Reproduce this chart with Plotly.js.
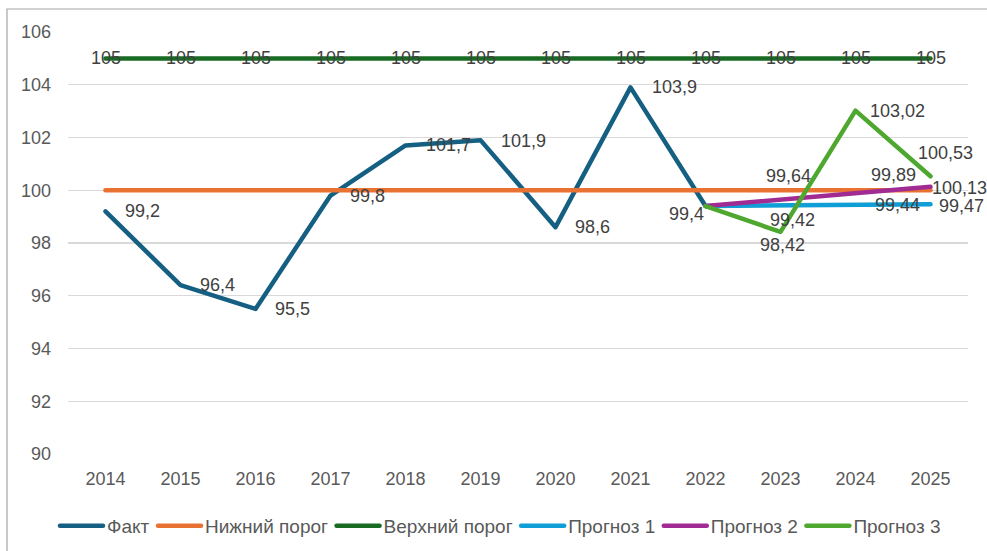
<!DOCTYPE html>
<html>
<head>
<meta charset="utf-8">
<script src="https://cdn.plot.ly/plotly-3.0.1.min.js"></script>
<style>
html, body { margin: 0; padding: 0; background: #fff; }
#chart { width: 987px; height: 551px; }
.js-line, .legendlines path { stroke-linejoin: round !important; stroke-linecap: round !important; }
</style>
</head>
<body>
<div id="chart"></div>
<script>
var years = ['2014','2015','2016','2017','2018','2019','2020','2021','2022','2023','2024','2025'];
var fact = [99.2, 96.4, 95.5, 99.8, 101.7, 101.9, 98.6, 103.9, 99.4, null, null, null];
var lowerThreshold = [100,100,100,100,100,100,100,100,100,100,100,100];
var upperThreshold = [105,105,105,105,105,105,105,105,105,105,105,105];
var forecast1 = [null,null,null,null,null,null,null,null, 99.4, 99.42, 99.44, 99.47];
var forecast2 = [null,null,null,null,null,null,null,null, 99.4, 99.64, 99.89, 100.13];
var forecast3 = [null,null,null,null,null,null,null,null, 99.4, 98.42, 103.02, 100.53];
var yTicks = [90, 92, 94, 96, 98, 100, 102, 104, 106];

// label placement per point: [xanchor, xshift, yshift] (null = no label)
var L = ['left', 17, 0];
var factPlace = [L, L, ['left',17,0], L, ['left',18,0], ['left',18,-1], L, ['left',19,0], ['right',0,-8], null, null, null];
var upperPlace = years.map(function () { return ['center', 0, 0]; });
var f1Place = [null,null,null,null,null,null,null,null, null, ['center',12,-14], ['left',17,0], ['left',6,-1.5]];
var f2Place = [null,null,null,null,null,null,null,null, null, ['center',8,24], ['center',38,18], ['left',-1,-1]];
var f3Place = [null,null,null,null,null,null,null,null, null, ['center',1.5,-13], ['left',12,0], ['center',15,23.5]];

function fmt(v) { return String(v).replace('.', ','); }

var lblFont = {family: 'Liberation Sans, Arial, sans-serif', size: 18, color: '#404040'};
var annotations = [];
function addLabels(values, place) {
  values.forEach(function (v, i) {
    var p = place[i];
    if (v === null || !p) return;
    annotations.push({x: i, y: v, xref: 'x', yref: 'y', text: fmt(v), showarrow: false,
      xanchor: p[0], yanchor: 'middle', xshift: p[1], yshift: p[2],
      font: {family: lblFont.family, size: lblFont.size, color: lblFont.color}});
  });
}
addLabels(fact, factPlace);
addLabels(upperThreshold, upperPlace);
addLabels(forecast1, f1Place);
addLabels(forecast2, f2Place);
addLabels(forecast3, f3Place);

var W = 4.5;
var traces = [
  {name: 'Факт', x: years, y: fact, mode: 'lines', line: {color: '#156082', width: W}, cliponaxis: false},
  {name: 'Нижний порог', x: years, y: lowerThreshold, mode: 'lines', line: {color: '#E97132', width: W}, cliponaxis: false},
  {name: 'Верхний порог', x: years, y: upperThreshold, mode: 'lines', line: {color: '#196B24', width: W}, cliponaxis: false},
  {name: 'Прогноз 1', x: years, y: forecast1, mode: 'lines', line: {color: '#0F9ED5', width: W}, cliponaxis: false},
  {name: 'Прогноз 2', x: years, y: forecast2, mode: 'lines', line: {color: '#A02B93', width: W}, cliponaxis: false},
  {name: 'Прогноз 3', x: years, y: forecast3, mode: 'lines', line: {color: '#4EA72E', width: W}, cliponaxis: false}
];

var tickFont = {family: 'Liberation Sans, Arial, sans-serif', size: 18, color: '#595959'};

var layout = {
  width: 987, height: 551,
  margin: {l: 68, r: 19, t: 32, b: 97, autoexpand: false},
  paper_bgcolor: '#ffffff', plot_bgcolor: '#ffffff',
  showlegend: true,
  legend: {orientation: 'h', x: 0, xanchor: 'left', y: -0.1706, yanchor: 'middle',
           font: {family: 'Liberation Sans, Arial, sans-serif', size: 19, color: '#595959'},
           traceorder: 'normal', itemwidth: 30, bgcolor: 'rgba(0,0,0,0)'},
  xaxis: {type: 'category', range: [-0.5, 11.5], showgrid: false, zeroline: false,
          showline: false, ticks: '', tickfont: tickFont, ticklabelstandoff: 12, fixedrange: true},
  yaxis: {range: [90, 106], tickvals: yTicks, ticktext: yTicks.map(String), showgrid: true,
          gridcolor: '#d9d9d9', gridwidth: 1.3, zeroline: false, showline: false, ticks: '',
          tickfont: tickFont, ticklabelstandoff: 16, fixedrange: true},
  annotations: annotations,
  shapes: [{type: 'rect', xref: 'paper', yref: 'paper', x0: -0.0678, x1: 1.2, y0: -0.3, y1: 1.0545,
            line: {color: '#a6a6a6', width: 1.2}, fillcolor: 'rgba(0,0,0,0)', layer: 'below'}]
};

Plotly.newPlot('chart', traces, layout, {displayModeBar: false, staticPlot: true}).then(function (gd) {
  // longer legend line samples and slightly wider spacing, as in the reference
  gd.querySelectorAll('.legendlines path').forEach(function (p) { p.setAttribute('d', 'M-7,0h43'); });
  gd.querySelectorAll('.legend .scrollbox').forEach(function (s) { s.removeAttribute('clip-path'); });
  var items = gd.querySelectorAll('.legend .traces');
  items.forEach(function (el, i) {
    var t = el.getAttribute('transform') || '';
    var m = /translate\(\s*([-\d.e]+)[ ,]+([-\d.e]+)\s*\)/.exec(t);
    if (m) {
      el.setAttribute('transform', 'translate(' + (parseFloat(m[1]) + 10.5 * i - 1) + ',' + m[2] + ')');
    }
  });
});
</script>
</body>
</html>
